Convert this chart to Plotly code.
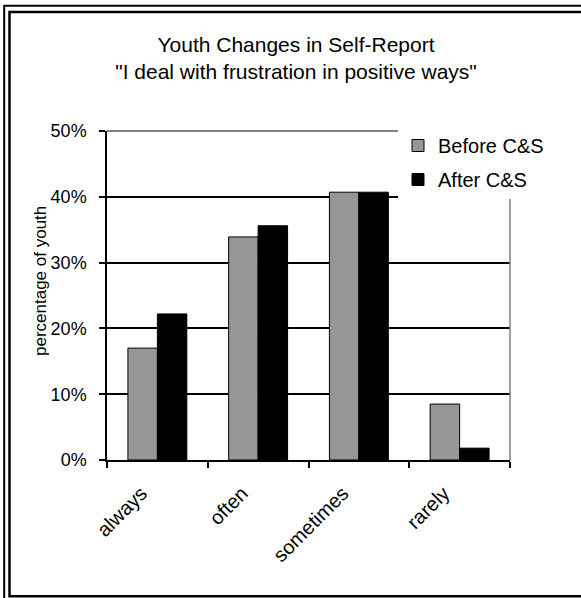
import plotly.graph_objects as go

categories = ["always", "often", "sometimes", "rarely"]
before_vals = [17.0, 33.9, 40.7, 8.5]
after_vals = [22.2, 35.6, 40.7, 1.8]
series_names = ["Before C&S", "After C&S"]
y_ticks = [0, 10, 20, 30, 40, 50]
y_tick_text = ["0%", "10%", "20%", "30%", "40%", "50%"]
y_title = "percentage of youth"

W, H = 581, 598
L, R, T, B = 107, 71, 131, 138
PW, PH = W - L - R, H - T - B

def px(x):
    return (x - L) / PW

def py(y):
    return (H - B - y) / PH

FONT = "Liberation Sans, Arial, sans-serif"

fig = go.Figure()
fig.add_trace(go.Bar(
    x=categories, y=before_vals, name=series_names[0],
    marker=dict(color="#969696", line=dict(color="black", width=1)),
    legendgroup="a",
))
fig.add_trace(go.Bar(
    x=categories, y=after_vals, name=series_names[1],
    marker=dict(color="#000000", line=dict(color="black", width=1)),
    legendgroup="b",
))

shapes = [
    dict(type="line", xref="paper", yref="paper", x0=0, x1=1, y0=1, y1=1,
         line=dict(color="#808080", width=2), layer="above"),
    dict(type="line", xref="paper", yref="paper", x0=1, x1=1, y0=0, y1=1,
         line=dict(color="#808080", width=1.5), layer="above"),
    dict(type="rect", xref="paper", yref="paper",
         x0=px(4.2), x1=px(620), y0=py(5.8), y1=py(640),
         line=dict(color="black", width=2), layer="above"),
    dict(type="rect", xref="paper", yref="paper",
         x0=px(9.5), x1=px(610), y0=py(12), y1=py(596.3),
         line=dict(color="black", width=2.5), layer="above"),
]

fig.update_layout(
    width=W, height=H,
    margin=dict(l=L, r=R, t=T, b=B, autoexpand=False),
    paper_bgcolor="white", plot_bgcolor="white",
    font=dict(family=FONT, color="black"),
    title=dict(
        text="Youth Changes in Self-Report<br>\"I deal with frustration in positive ways\"",
        x=296 / W, xanchor="center", xref="container",
        y=1 - 52 / H, yanchor="top", yref="container",
        font=dict(size=21, family=FONT, color="black"),
    ),
    barmode="group", bargap=0.415, bargroupgap=0,
    showlegend=True,
    legend=dict(
        x=px(398), xanchor="left", y=py(199), yanchor="bottom",
        bgcolor="white", borderwidth=0,
        font=dict(size=20, family=FONT, color="black"),
        tracegroupgap=5, traceorder="grouped",
    ),
    shapes=shapes,
    annotations=[
        dict(text=y_title, xref="paper", yref="paper", x=px(40), y=py(281),
             xanchor="center", yanchor="middle", textangle=-90, showarrow=False,
             font=dict(size=17, family=FONT, color="black")),
    ],
)

fig.update_xaxes(
    type="category", showline=True, linecolor="black", linewidth=1.5,
    ticks="outside", tickson="boundaries", ticklen=6, tickcolor="black", tickwidth=1.5,
    tickangle=-45, tickfont=dict(size=20, family=FONT, color="black"),
    ticklabelstandoff=12, ticklabelshift=-16,
    showgrid=False, automargin=False,
)
fig.update_yaxes(
    range=[0, 50], tickvals=y_ticks, ticktext=y_tick_text,
    showline=True, linecolor="black", linewidth=1.5,
    ticks="outside", ticklen=6, tickcolor="black", tickwidth=1.5,
    tickfont=dict(size=18, family=FONT, color="black"),
    ticklabelstandoff=9,
    showgrid=True, gridcolor="black", gridwidth=1.5, zeroline=False,
    automargin=False,
)

fig.write_html("out.html")
